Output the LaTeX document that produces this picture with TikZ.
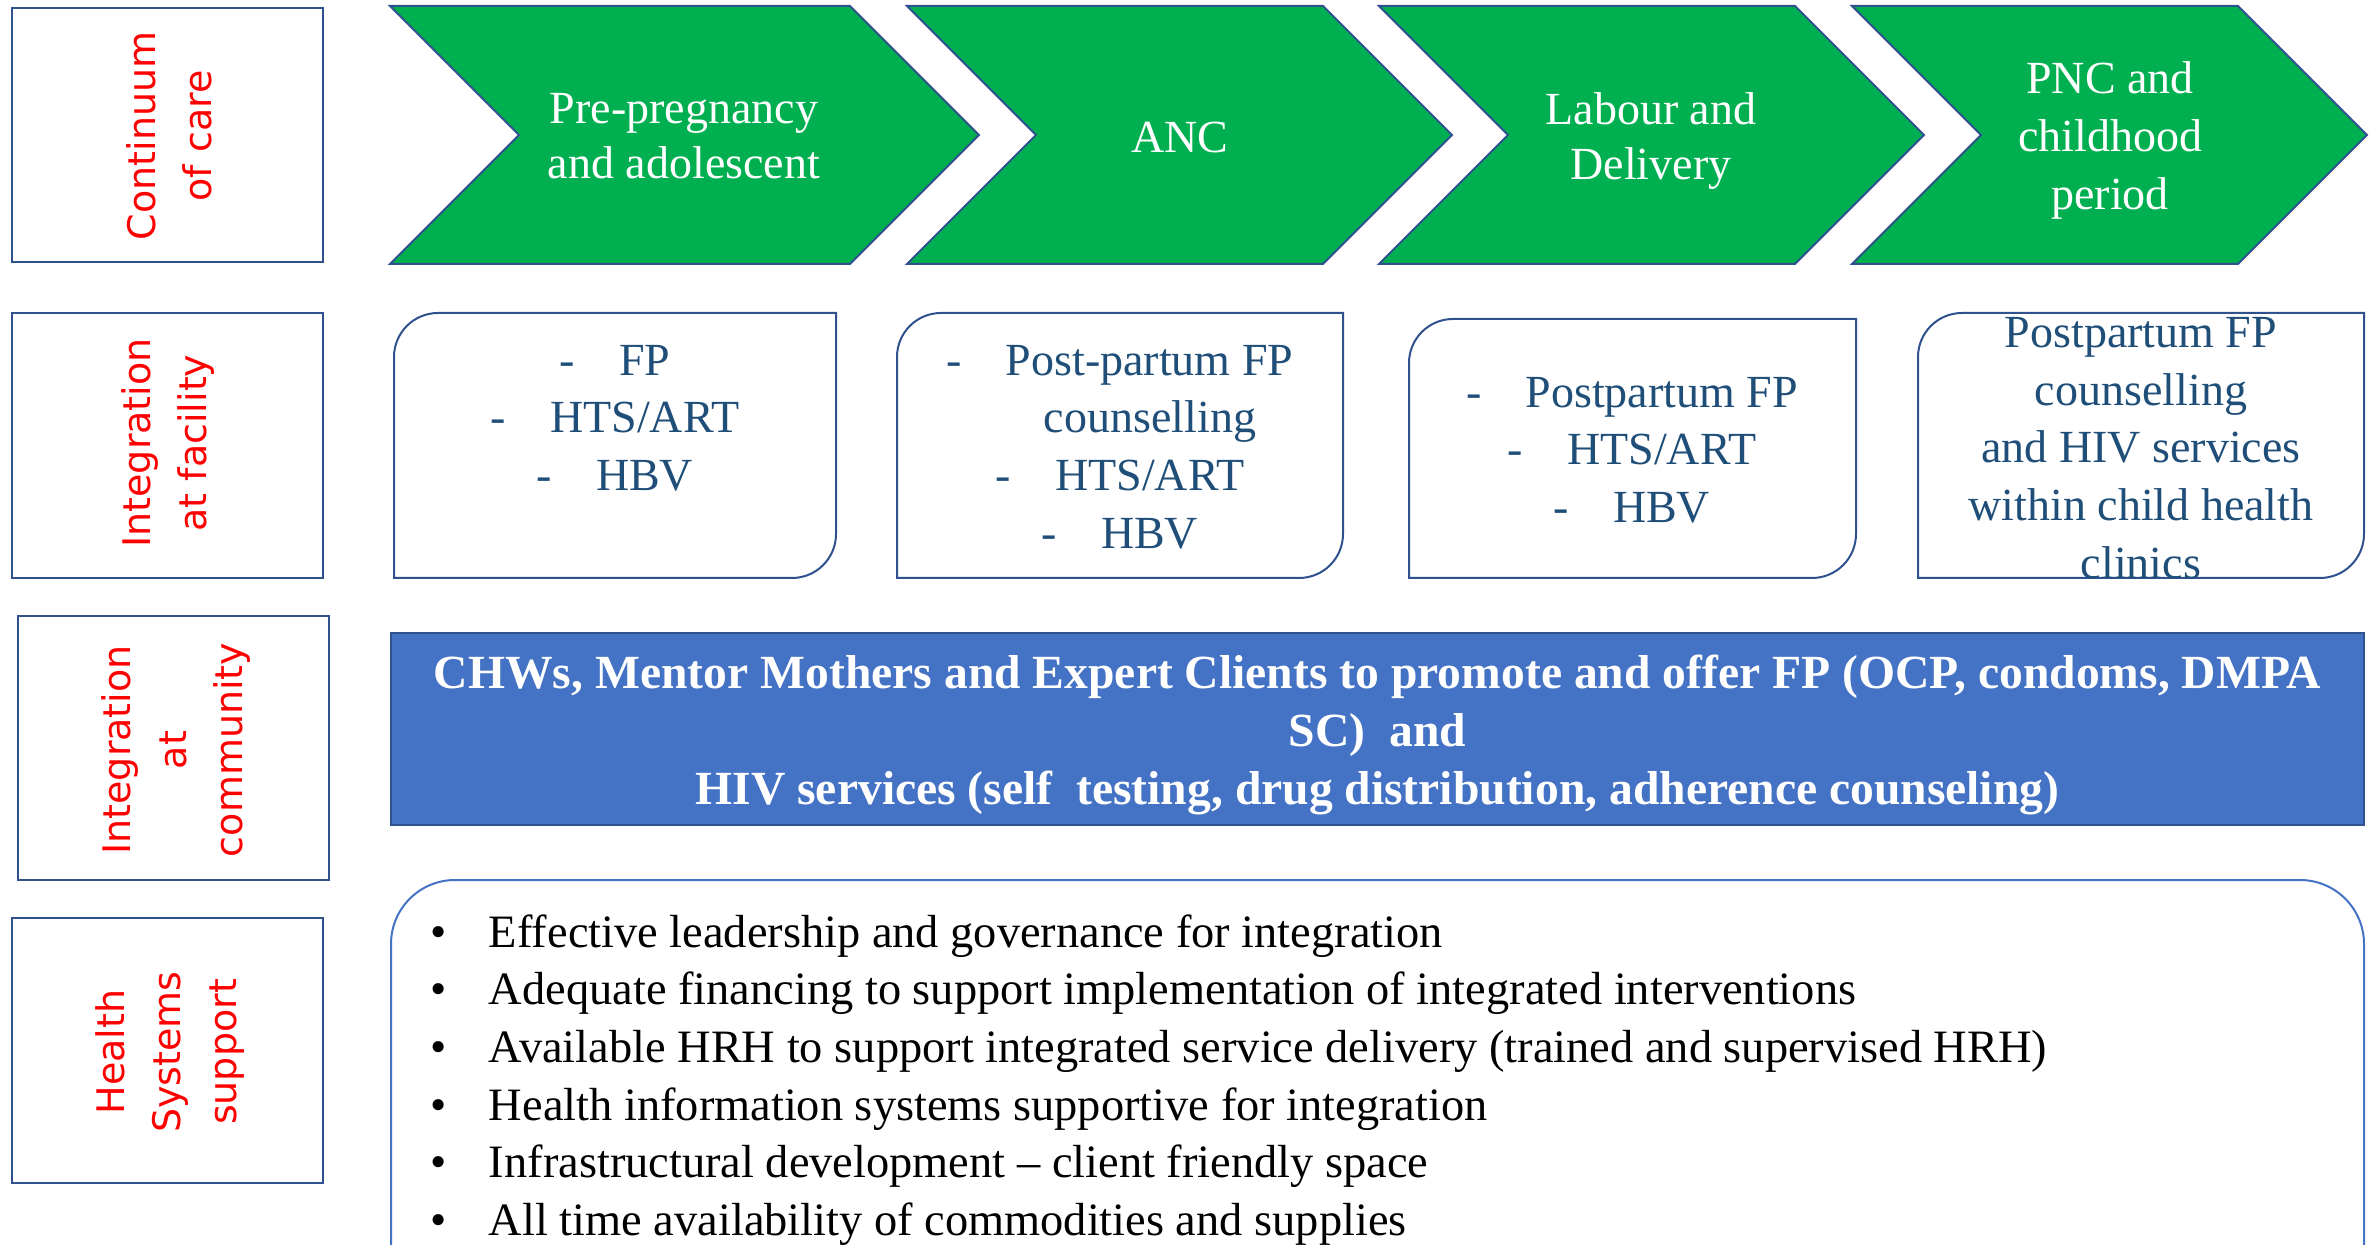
\documentclass[tikz,border=0pt]{standalone}
\usepackage{fontspec}
\setmainfont{Liberation Serif}
\newfontfamily\labelfont{DejaVu Sans}
\definecolor{chevgreen}{HTML}{00B050}
\definecolor{boxblue}{HTML}{4472C4}
\definecolor{edgeblue}{HTML}{2F528F}
\definecolor{itemblue}{HTML}{1F4E79}
\tikzset{
  labelbox/.style={draw=edgeblue,fill=white},
  rowlabel/.style={rotate=90,text=red,align=center,inner sep=0pt,font=\labelfont\fontsize{19}{28}\selectfont},
  chevtext/.style={text=white,align=center,inner sep=0pt,font=\fontsize{23}{27.5}\selectfont},
  itemtext/.style={text=itemblue,align=center,inner sep=0pt,font=\fontsize{23}{28.8}\selectfont},
}

\begin{document}
\begin{tikzpicture}[x=0.5pt,y=-0.5pt,line width=1pt]

  \useasboundingbox (0,0) rectangle (2379,1245);

  % row labels on the left
  \foreach \l/\t/\r/\b in {12/8/323/262, 12/313/323/578, 18/616/329/880, 12/918/323/1183}
    \draw[labelbox] (\l,\t) rectangle (\r,\b);

  \node[rowlabel] (care) at (169,136) {Continuum\\of care};
  \node[rowlabel] (facility) at (168,443) {Integration\\at facility};
  \node[rowlabel] (community) at (176,750) {Integration\\at\\community};
  \node[rowlabel] (systems) at (170,1052) {Health\\Systems\\support};

  % continuum of care chevrons
  \foreach \l/\r in {390/979, 907/1452, 1379/1924, 1852/2367}
    \draw[draw=edgeblue,fill=chevgreen] (\l,6) -- ({\r-129},6) -- (\r,135) -- ({\r-129},264) -- (\l,264) -- ({\l+129},135) -- cycle;

  \node[chevtext] (prepreg) at (684,136) {Pre-pregnancy\\and adolescent};
  \node[chevtext] (anc) at (1180,138) {ANC};
  \node[chevtext] (labour) at (1651,141) {Labour and\\Delivery};
  \node[chevtext,font=\fontsize{23}{29}\selectfont] (pnc) at (2110,140) {PNC and\\childhood\\period};

  % facility boxes
  \foreach \l/\t/\r in {394/313/836, 897/313/1343, 1409/319/1856, 1918/313/2364}
    \draw[draw=edgeblue,fill=white] (\l,578) [rounded corners=22pt] -- (\l,\t) [sharp corners] -- (\r,\t) [rounded corners=22pt] -- (\r,578) [sharp corners] -- cycle;

  \node[itemtext] (fac1) at (615,418) {-\hspace{22pt}FP\\-\hspace{22pt}HTS/ART\\-\hspace{22pt}HBV};
  \node[itemtext] (fac2) at (1120,447) {-\hspace{22pt}Post-partum FP\\\hspace*{30pt}counselling\\-\hspace{22pt}HTS/ART\\-\hspace{22pt}HBV};
  \node[itemtext] (fac3) at (1632,450) {-\hspace{22pt}Postpartum FP\\-\hspace{22pt}HTS/ART\\-\hspace{22pt}HBV};
  \node[itemtext] (fac4) at (2141,448) {Postpartum FP\\counselling\\and HIV services\\within child health\\clinics};

  % community bar
  \draw[draw=edgeblue,fill=boxblue] (391,633) rectangle (2364,825);
  \node[text=white,align=center,inner sep=0pt,font=\bfseries\fontsize{23.8}{29.2}\selectfont] (chws) at (1377.5,735)
    {CHWs, Mentor Mothers and Expert Clients to promote and offer FP (OCP, condoms, DMPA\\SC)\ \ and\\HIV services (self\ \ testing, drug distribution, adherence counseling)};

  % health systems box
  \draw[draw=boxblue,fill=white,rounded corners=32pt] (391,1260) -- (391,880) -- (2364,880) -- (2364,1260);

  \node[anchor=west,align=left,inner sep=0pt,font=\fontsize{23.2}{28.8}\selectfont] (support) at (429,1080)
    {\makebox[29.5pt][l]{\textbullet}Effective leadership and governance for integration\\
     \makebox[29.5pt][l]{\textbullet}Adequate financing to support implementation of integrated interventions\\
     \makebox[29.5pt][l]{\textbullet}Available HRH to support integrated service delivery (trained and supervised HRH)\\
     \makebox[29.5pt][l]{\textbullet}Health information systems supportive for integration\\
     \makebox[29.5pt][l]{\textbullet}Infrastructural development -- client friendly space\\
     \makebox[29.5pt][l]{\textbullet}All time availability of commodities and supplies};

\end{tikzpicture}
\end{document}
